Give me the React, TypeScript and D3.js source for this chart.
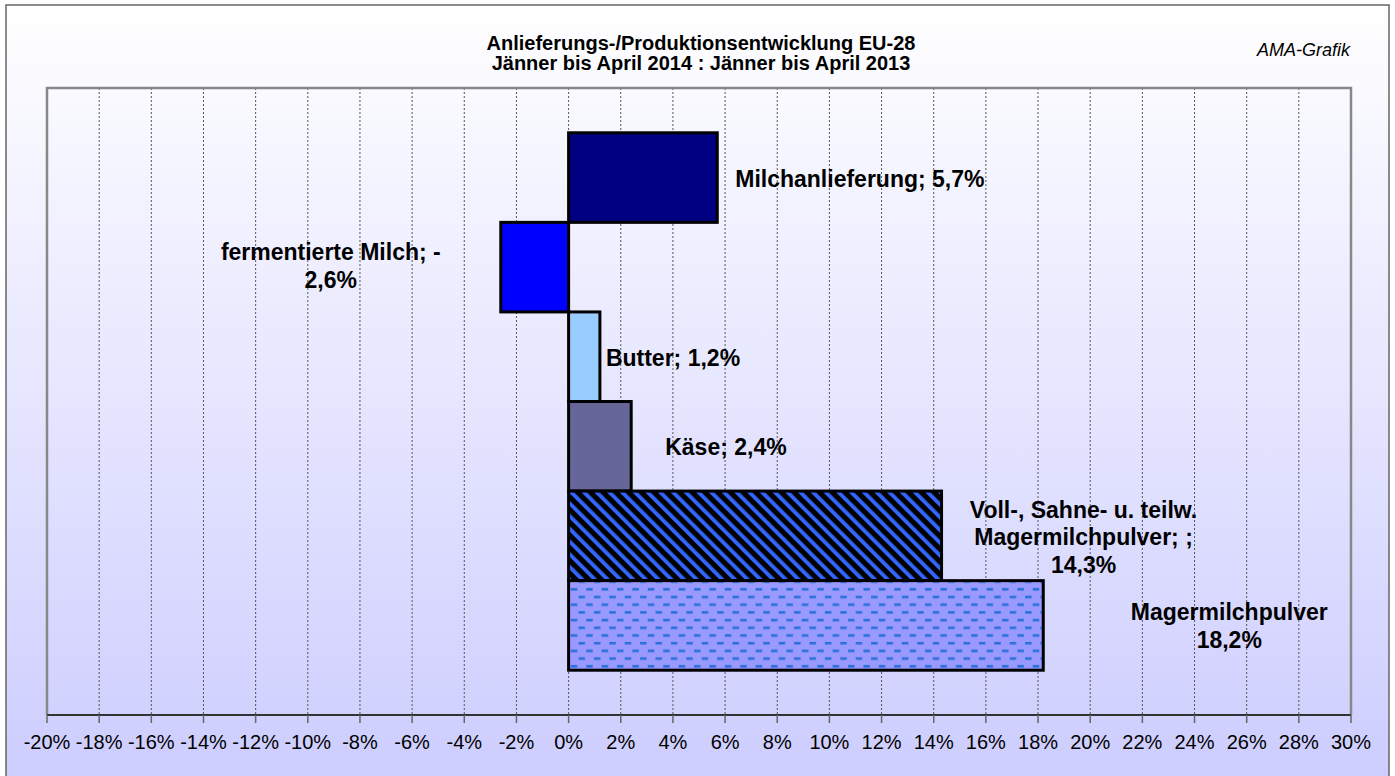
import React from "react";
import * as d3 from "d3";

const categories = [
  "Milchanlieferung",
  "fermentierte Milch",
  "Butter",
  "Käse",
  "Voll-, Sahne- u. teilw. Magermilchpulver",
  "Magermilchpulver",
];
const values = [5.7, -2.6, 1.2, 2.4, 14.3, 18.2];
const labelLines = [
  ["Milchanlieferung; 5,7%"],
  ["fermentierte Milch; -", "2,6%"],
  ["Butter; 1,2%"],
  ["Käse; 2,4%"],
  ["Voll-, Sahne- u. teilw.", "Magermilchpulver; ;", "14,3%"],
  ["Magermilchpulver", "18,2%"],
];
const tickValues = d3.range(-20, 31, 2);
const titleLines = [
  "Anlieferungs-/Produktionsentwicklung EU-28",
  "Jänner bis April 2014 : Jänner bis April 2013",
];

// fills per bar, patterns defined in <defs>
const fills = ["#000080", "#0000FF", "#99CCFF", "#666699", "url(#diag)", "url(#dash)"];
// label placement (manual, like in the excel original)
const labelPos = [
  { dx: 18, dy: 9, anchor: "start" },
  { dx: -170, dy: -7, anchor: "middle" },
  { dx: 6, dy: 9, anchor: "start" },
  { dx: 34, dy: 9, anchor: "start" },
  { dx: 142, dy: -18, anchor: "middle" },
  { dx: 186, dy: -5, anchor: "middle" },
];

const W = 1395;
const H = 776;
const font = "'Liberation Sans', Arial, sans-serif";

const App = () => {
  const left = 47, right = 1351, top = 88, bottom = 715;

  const x = d3.scaleLinear().domain([-20, 30]).range([left, right]);
  const y = d3
    .scaleBand()
    .domain(categories)
    .range([top, bottom])
    .paddingInner(0)
    .paddingOuter(0.5);

  const fmt = (d) => `${d}%`;

  return (
    <svg width={W} height={H} style={{ position: "absolute", left: 0, top: 0 }}>
      <defs>
        <linearGradient id="bg" x1="0" y1="0" x2="0" y2="1">
          <stop offset="0" stopColor="#FFFFFF" />
          <stop offset="1" stopColor="#CCCCFF" />
        </linearGradient>
        <pattern id="diag" patternUnits="userSpaceOnUse" width="9" height="9" patternTransform="rotate(-45)">
          <rect width="9" height="9" fill="#000" />
          <rect width="3.8" height="9" fill="#3366FF" />
        </pattern>
        <pattern id="dash" patternUnits="userSpaceOnUse" width="15.4" height="15.4">
          <rect width="15.4" height="15.4" fill="#9999FF" />
          <rect x="1" y="2.8" width="6.5" height="2.6" fill="#2A70DC" />
          <rect x="8.7" y="10.5" width="6.5" height="2.6" fill="#2A70DC" />
        </pattern>
      </defs>

      <rect x={6} y={5} width={1383} height={790} fill="url(#bg)" stroke="#666" strokeWidth={1.5} />

      {/* title */}
      <g fontFamily={font} fontWeight="bold" fontSize={20} textAnchor="middle" fill="#000">
        {titleLines.map((t, i) => (
          <text key={i} x={(left + right) / 2 + 2} y={50 + i * 20}>
            {t}
          </text>
        ))}
      </g>
      <text x={1350} y={56} fontFamily={font} fontStyle="italic" fontSize={18} textAnchor="end">
        AMA-Grafik
      </text>

      {/* grid */}
      {tickValues.map((t) => (
        <line
          key={t}
          x1={x(t)}
          x2={x(t)}
          y1={top}
          y2={bottom}
          stroke="#555"
          strokeWidth={1}
          strokeDasharray="2,2"
        />
      ))}

      {/* bars */}
      {values.map((v, i) => (
        <rect
          key={i}
          x={x(Math.min(0, v))}
          y={y(categories[i])}
          width={Math.abs(x(v) - x(0))}
          height={y.bandwidth()}
          fill={fills[i]}
          stroke="#000"
          strokeWidth={3}
        />
      ))}

      {/* plot frame */}
      <path d={`M${left},${bottom}V${top}H${right}V${bottom}`} fill="none" stroke="#888" strokeWidth={2.5} />
      <line x1={left} x2={right} y1={bottom} y2={bottom} stroke="#333" strokeWidth={2} />

      {/* x axis */}
      <g fontFamily={font} fontSize={20} textAnchor="middle" fill="#000">
        {tickValues.map((t) => (
          <g key={t}>
            <line x1={x(t)} x2={x(t)} y1={bottom} y2={bottom + 8} stroke="#666" strokeWidth={1.5} />
            <text x={x(t)} y={749}>
              {fmt(t)}
            </text>
          </g>
        ))}
      </g>

      {/* data labels */}
      <g fontFamily={font} fontWeight="bold" fontSize={23} fill="#000">
        {labelLines.map((lines, i) => {
          const p = labelPos[i];
          const cy = y(categories[i]) + y.bandwidth() / 2;
          return (
            <text key={i} textAnchor={p.anchor} x={x(values[i]) + p.dx} y={cy + p.dy}>
              {lines.map((l, j) => (
                <tspan key={j} x={x(values[i]) + p.dx} dy={j === 0 ? 0 : 27.5}>
                  {l}
                </tspan>
              ))}
            </text>
          );
        })}
      </g>
    </svg>
  );
};

export default App;
